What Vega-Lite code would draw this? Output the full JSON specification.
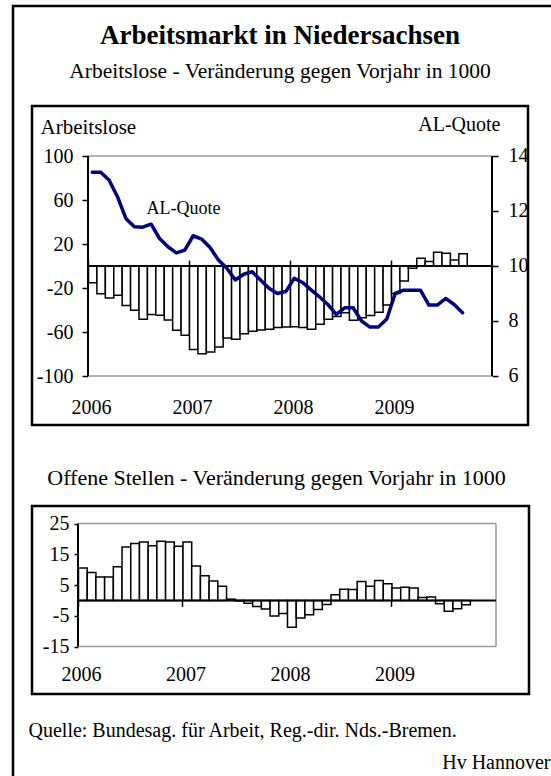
{
  "$schema": "https://vega.github.io/schema/vega-lite/v6.json",
  "width": 538,
  "height": 770,
  "autosize": {"type": "none"},
  "padding": {"left": 13, "top": 6, "right": 0, "bottom": 0},
  "background": "white",
  "config": {
    "font": "Liberation Serif",
    "view": {"stroke": "black", "strokeWidth": 2.5, "strokeDash": [538, 1308, 770]},
    "axis": {"labelColor": "black", "tickColor": "black", "titleColor": "black", "labelFont": "Liberation Serif", "titleFont": "Liberation Serif", "titleFontWeight": "normal", "grid": false, "domain": false, "labelFlush": false, "labelOverlap": false, "tickWidth": 1.5}
  },
  "title": {
    "text": "Arbeitsmarkt in Niedersachsen",
    "subtitle": "Arbeitslose - Veränderung gegen Vorjahr in 1000",
    "font": "Liberation Serif", "fontSize": 27, "fontWeight": "bold", "color": "black",
    "subtitleFont": "Liberation Serif", "subtitleFontSize": 21.5, "subtitleColor": "black",
    "subtitlePadding": 11, "offset": -77.5, "anchor": "middle", "frame": "group", "dx": -2
  },
  "datasets": {
    "one": [{}],
    "top": [
      {"month": "2006-01", "t": 0.5, "al": -15.2, "q": 13.41},
      {"month": "2006-02", "t": 1.5, "al": -25.2, "q": 13.41},
      {"month": "2006-03", "t": 2.5, "al": -29.1, "q": 13.13},
      {"month": "2006-04", "t": 3.5, "al": -26.7, "q": 12.52},
      {"month": "2006-05", "t": 4.5, "al": -35.8, "q": 11.73},
      {"month": "2006-06", "t": 5.5, "al": -40.3, "q": 11.43},
      {"month": "2006-07", "t": 6.5, "al": -48.5, "q": 11.41},
      {"month": "2006-08", "t": 7.5, "al": -44.2, "q": 11.52},
      {"month": "2006-09", "t": 8.5, "al": -44.8, "q": 11.0},
      {"month": "2006-10", "t": 9.5, "al": -49.1, "q": 10.7},
      {"month": "2006-11", "t": 10.5, "al": -58.5, "q": 10.48},
      {"month": "2006-12", "t": 11.5, "al": -63.0, "q": 10.58},
      {"month": "2007-01", "t": 12.5, "al": -76.0, "q": 11.1},
      {"month": "2007-02", "t": 13.5, "al": -79.7, "q": 10.98},
      {"month": "2007-03", "t": 14.5, "al": -78.2, "q": 10.67},
      {"month": "2007-04", "t": 15.5, "al": -73.6, "q": 10.22},
      {"month": "2007-05", "t": 16.5, "al": -65.5, "q": 9.92},
      {"month": "2007-06", "t": 17.5, "al": -66.7, "q": 9.49},
      {"month": "2007-07", "t": 18.5, "al": -61.5, "q": 9.7},
      {"month": "2007-08", "t": 19.5, "al": -59.4, "q": 9.79},
      {"month": "2007-09", "t": 20.5, "al": -58.2, "q": 9.49},
      {"month": "2007-10", "t": 21.5, "al": -57.6, "q": 9.19},
      {"month": "2007-11", "t": 22.5, "al": -56.0, "q": 9.0},
      {"month": "2007-12", "t": 23.5, "al": -55.5, "q": 9.07},
      {"month": "2008-01", "t": 24.5, "al": -55.2, "q": 9.55},
      {"month": "2008-02", "t": 25.5, "al": -55.8, "q": 9.4},
      {"month": "2008-03", "t": 26.5, "al": -57.6, "q": 9.13},
      {"month": "2008-04", "t": 27.5, "al": -53.0, "q": 8.88},
      {"month": "2008-05", "t": 28.5, "al": -48.5, "q": 8.6},
      {"month": "2008-06", "t": 29.5, "al": -46.0, "q": 8.24},
      {"month": "2008-07", "t": 30.5, "al": -42.4, "q": 8.48},
      {"month": "2008-08", "t": 31.5, "al": -49.4, "q": 8.48},
      {"month": "2008-09", "t": 32.5, "al": -47.0, "q": 8.0},
      {"month": "2008-10", "t": 33.5, "al": -45.0, "q": 7.78},
      {"month": "2008-11", "t": 34.5, "al": -42.0, "q": 7.78},
      {"month": "2008-12", "t": 35.5, "al": -35.5, "q": 8.07},
      {"month": "2009-01", "t": 36.5, "al": -25.0, "q": 9.0},
      {"month": "2009-02", "t": 37.5, "al": -13.6, "q": 9.12},
      {"month": "2009-03", "t": 38.5, "al": -2.0, "q": 9.12},
      {"month": "2009-04", "t": 39.5, "al": 7.0, "q": 9.12},
      {"month": "2009-05", "t": 40.5, "al": 4.0, "q": 8.58},
      {"month": "2009-06", "t": 41.5, "al": 12.4, "q": 8.58},
      {"month": "2009-07", "t": 42.5, "al": 11.5, "q": 8.82},
      {"month": "2009-08", "t": 43.5, "al": 5.5, "q": 8.6},
      {"month": "2009-09", "t": 44.5, "al": 11.2, "q": 8.3}
    ],
    "os": [
      {"month": "2006-01", "t": 0.5, "os": 10.5},
      {"month": "2006-02", "t": 1.5, "os": 9.1},
      {"month": "2006-03", "t": 2.5, "os": 7.6},
      {"month": "2006-04", "t": 3.5, "os": 7.6},
      {"month": "2006-05", "t": 4.5, "os": 10.9},
      {"month": "2006-06", "t": 5.5, "os": 17.4},
      {"month": "2006-07", "t": 6.5, "os": 18.5},
      {"month": "2006-08", "t": 7.5, "os": 19.0},
      {"month": "2006-09", "t": 8.5, "os": 17.8},
      {"month": "2006-10", "t": 9.5, "os": 19.2},
      {"month": "2006-11", "t": 10.5, "os": 19.0},
      {"month": "2006-12", "t": 11.5, "os": 17.6},
      {"month": "2007-01", "t": 12.5, "os": 19.0},
      {"month": "2007-02", "t": 13.5, "os": 11.2},
      {"month": "2007-03", "t": 14.5, "os": 8.0},
      {"month": "2007-04", "t": 15.5, "os": 6.3},
      {"month": "2007-05", "t": 16.5, "os": 4.6},
      {"month": "2007-06", "t": 17.5, "os": 0.4},
      {"month": "2007-07", "t": 18.5, "os": -0.2},
      {"month": "2007-08", "t": 19.5, "os": -0.9},
      {"month": "2007-09", "t": 20.5, "os": -2.0},
      {"month": "2007-10", "t": 21.5, "os": -2.8},
      {"month": "2007-11", "t": 22.5, "os": -5.1},
      {"month": "2007-12", "t": 23.5, "os": -4.3},
      {"month": "2008-01", "t": 24.5, "os": -8.7},
      {"month": "2008-02", "t": 25.5, "os": -5.7},
      {"month": "2008-03", "t": 26.5, "os": -4.7},
      {"month": "2008-04", "t": 27.5, "os": -3.0},
      {"month": "2008-05", "t": 28.5, "os": -1.3},
      {"month": "2008-06", "t": 29.5, "os": 1.8},
      {"month": "2008-07", "t": 30.5, "os": 3.6},
      {"month": "2008-08", "t": 31.5, "os": 3.5},
      {"month": "2008-09", "t": 32.5, "os": 6.1},
      {"month": "2008-10", "t": 33.5, "os": 4.6},
      {"month": "2008-11", "t": 34.5, "os": 6.5},
      {"month": "2008-12", "t": 35.5, "os": 5.4},
      {"month": "2009-01", "t": 36.5, "os": 4.0},
      {"month": "2009-02", "t": 37.5, "os": 4.3},
      {"month": "2009-03", "t": 38.5, "os": 4.0},
      {"month": "2009-04", "t": 39.5, "os": 0.9},
      {"month": "2009-05", "t": 40.5, "os": 1.1},
      {"month": "2009-06", "t": 41.5, "os": -1.1},
      {"month": "2009-07", "t": 42.5, "os": -3.5},
      {"month": "2009-08", "t": 43.5, "os": -2.7},
      {"month": "2009-09", "t": 44.5, "os": -1.4}
    ]
  },
  "layer": [
    {
      "layer": [
        {
          "layer": [
            {
              "data": {"name": "one"},
              "mark": {"type": "rect", "fill": "transparent", "stroke": "black", "strokeWidth": 2.5},
              "encoding": {
                "x": {"datum": -6.653, "type": "quantitative", "scale": {"domain": [-8.911, 55.01], "nice": false, "zero": false}},
                "x2": {"datum": 52.277},
                "y": {"datum": 145.45, "type": "quantitative", "scale": {"domain": [-463.636, 236.364], "nice": false, "zero": false}},
                "y2": {"datum": -144.55}
              }
            },
            {
              "data": {"name": "one"},
              "mark": {"type": "rule", "color": "#9a9a9a", "strokeWidth": 1.5},
              "encoding": {
                "x": {"datum": 0, "type": "quantitative", "scale": {"domain": [-8.911, 55.01], "nice": false, "zero": false}},
                "x2": {"datum": 48},
                "y": {"datum": 100, "type": "quantitative", "scale": {"domain": [-463.636, 236.364], "nice": false, "zero": false}}
              }
            },
            {
              "data": {"name": "one"},
              "mark": {"type": "rule", "color": "#9a9a9a", "strokeWidth": 1.5},
              "encoding": {
                "x": {"datum": 0, "type": "quantitative", "scale": {"domain": [-8.911, 55.01], "nice": false, "zero": false}},
                "x2": {"datum": 48},
                "y": {"datum": -100, "type": "quantitative", "scale": {"domain": [-463.636, 236.364], "nice": false, "zero": false}}
              }
            },
            {
              "data": {"name": "top"},
              "mark": {"type": "bar", "fill": "white", "stroke": "black", "strokeWidth": 1.5, "binSpacing": 0},
              "encoding": {
                "x": {
                  "field": "t", "type": "quantitative", "bin": {"step": 1, "extent": [0, 45]},
                  "scale": {"domain": [-8.911, 55.01], "nice": false, "zero": false},
                  "axis": {"orient": "bottom", "offset": -510, "values": [0, 12, 24, 36], "labelExpr": "'' + (2006 + datum.value / 12)", "tickSize": -6, "labelPadding": 153, "labelBaseline": "alphabetic", "labelOffset": 3, "labelFontSize": 20, "title": "Hv Hannover", "titleX": 537, "titleY": 502, "titleAlign": "right", "titleBaseline": "alphabetic", "titleFontSize": 20}
                },
                "y": {
                  "field": "al", "type": "quantitative",
                  "scale": {"domain": [-463.636, 236.364], "nice": false, "zero": false},
                  "axis": {"orient": "left", "offset": -75, "values": [-100, -60, -20, 20, 60, 100], "labelExpr": "'' + datum.value", "tickSize": 6, "labelPadding": 9, "labelFontSize": 20, "title": "Arbeitslose", "titleAngle": 0, "titleX": -48, "titleY": 127, "titleAlign": "left", "titleBaseline": "alphabetic", "titleFontSize": 21}
                }
              }
            },
            {
              "data": {"name": "one"},
              "mark": {"type": "rule", "color": "black", "strokeWidth": 2},
              "encoding": {
                "x": {"datum": 0, "type": "quantitative", "scale": {"domain": [-8.911, 55.01], "nice": false, "zero": false}},
                "x2": {"datum": 48},
                "y": {"datum": 0, "type": "quantitative", "scale": {"domain": [-463.636, 236.364], "nice": false, "zero": false}}
              }
            },
            {
              "data": {"name": "one"},
              "mark": {"type": "rule", "color": "black", "strokeWidth": 2},
              "encoding": {
                "x": {"datum": 0, "type": "quantitative", "scale": {"domain": [-8.911, 55.01], "nice": false, "zero": false}},
                "y": {"datum": -100, "type": "quantitative", "scale": {"domain": [-463.636, 236.364], "nice": false, "zero": false}},
                "y2": {"datum": 100}
              }
            },
            {
              "data": {"name": "one"},
              "mark": {"type": "rule", "color": "black", "strokeWidth": 2},
              "encoding": {
                "x": {"datum": 48, "type": "quantitative", "scale": {"domain": [-8.911, 55.01], "nice": false, "zero": false}},
                "y": {"datum": -100, "type": "quantitative", "scale": {"domain": [-463.636, 236.364], "nice": false, "zero": false}},
                "y2": {"datum": 100}
              }
            }
          ]
        },
        {
          "layer": [
            {
              "data": {"name": "top"},
              "mark": {"type": "line", "color": "#000080", "strokeWidth": 3.5, "strokeJoin": "round", "strokeCap": "round"},
              "encoding": {
                "x": {"field": "t", "type": "quantitative", "scale": {"domain": [-8.911, 55.01], "nice": false, "zero": false}},
                "y": {
                  "field": "q", "type": "quantitative",
                  "scale": {"domain": [-8.5455, 19.4545], "nice": false, "zero": false},
                  "axis": {"orient": "right", "offset": -59, "values": [6, 8, 10, 12, 14], "tickSize": 6, "labelPadding": 10, "labelFontSize": 20, "title": "AL-Quote", "titleAngle": 0, "titleX": 8, "titleY": 124, "titleAlign": "right", "titleBaseline": "alphabetic", "titleFontSize": 20}
                }
              }
            },
            {
              "data": {"name": "one"},
              "mark": {"type": "text", "text": "AL-Quote", "fontSize": 18, "align": "center", "baseline": "alphabetic", "color": "black", "font": "Liberation Serif"},
              "encoding": {
                "x": {"datum": 11.35, "type": "quantitative", "scale": {"domain": [-8.911, 55.01], "nice": false, "zero": false}},
                "y": {"datum": 11.89, "type": "quantitative", "scale": {"domain": [-8.5455, 19.4545], "nice": false, "zero": false}}
              }
            }
          ]
        }
      ],
      "resolve": {"scale": {"y": "independent"}}
    },
    {
      "layer": [
        {
          "data": {"name": "one"},
          "mark": {"type": "rect", "fill": "transparent", "stroke": "black", "strokeWidth": 2.5},
          "encoding": {
            "x": {"datum": -5.282, "type": "quantitative", "scale": {"domain": [-7.464, 54.316], "nice": false, "zero": false}},
            "x2": {"datum": 51.789},
            "y": {"datum": 30.69, "type": "quantitative", "scale": {"domain": [-57.11, 193.29], "nice": false, "zero": false}},
            "y2": {"datum": -30.447}
          }
        },
        {
          "data": {"name": "one"},
          "mark": {"type": "rule", "color": "#9a9a9a", "strokeWidth": 1.5},
          "encoding": {
            "x": {"datum": 0, "type": "quantitative", "scale": {"domain": [-7.464, 54.316], "nice": false, "zero": false}},
            "x2": {"datum": 48},
            "y": {"datum": 25, "type": "quantitative", "scale": {"domain": [-57.11, 193.29], "nice": false, "zero": false}}
          }
        },
        {
          "data": {"name": "one"},
          "mark": {"type": "rule", "color": "#9a9a9a", "strokeWidth": 1.5},
          "encoding": {
            "x": {"datum": 0, "type": "quantitative", "scale": {"domain": [-7.464, 54.316], "nice": false, "zero": false}},
            "x2": {"datum": 48},
            "y": {"datum": -15, "type": "quantitative", "scale": {"domain": [-57.11, 193.29], "nice": false, "zero": false}}
          }
        },
        {
          "data": {"name": "one"},
          "mark": {"type": "rule", "color": "#9a9a9a", "strokeWidth": 1.5},
          "encoding": {
            "x": {"datum": 48, "type": "quantitative", "scale": {"domain": [-7.464, 54.316], "nice": false, "zero": false}},
            "y": {"datum": -15, "type": "quantitative", "scale": {"domain": [-57.11, 193.29], "nice": false, "zero": false}},
            "y2": {"datum": 25}
          }
        },
        {
          "data": {"name": "os"},
          "mark": {"type": "bar", "fill": "white", "stroke": "black", "strokeWidth": 1.5, "binSpacing": 0},
          "encoding": {
            "x": {
              "field": "t", "type": "quantitative", "bin": {"step": 1, "extent": [0, 45]},
              "scale": {"domain": [-7.464, 54.316], "nice": false, "zero": false},
              "axis": {"orient": "bottom", "offset": -175.6, "values": [0, 12, 24, 36], "labelExpr": "'' + (2006 + datum.value / 12)", "tickSize": 6, "labelPadding": 73.6, "labelBaseline": "alphabetic", "labelOffset": 3, "labelFontSize": 20, "title": "Quelle: Bundesag. für Arbeit, Reg.-dir. Nds.-Bremen.", "titleX": 15, "titleY": 136, "titleAlign": "left", "titleBaseline": "alphabetic", "titleFontSize": 20}
            },
            "y": {
              "field": "os", "type": "quantitative",
              "scale": {"domain": [-57.11, 193.29], "nice": false, "zero": false},
              "axis": {"orient": "left", "offset": -65, "values": [-15, -5, 5, 15, 25], "labelExpr": "'' + datum.value", "tickSize": 4, "labelPadding": 5, "labelFontSize": 20, "title": "Offene Stellen - Veränderung gegen Vorjahr in 1000", "titleAngle": 0, "titleX": 198, "titleY": 478, "titleAlign": "center", "titleBaseline": "alphabetic", "titleFontSize": 22}
            }
          }
        },
        {
          "data": {"name": "one"},
          "mark": {"type": "rule", "color": "black", "strokeWidth": 2},
          "encoding": {
            "x": {"datum": 0, "type": "quantitative", "scale": {"domain": [-7.464, 54.316], "nice": false, "zero": false}},
            "x2": {"datum": 48},
            "y": {"datum": 0, "type": "quantitative", "scale": {"domain": [-57.11, 193.29], "nice": false, "zero": false}}
          }
        },
        {
          "data": {"name": "one"},
          "mark": {"type": "rule", "color": "black", "strokeWidth": 2},
          "encoding": {
            "x": {"datum": 0, "type": "quantitative", "scale": {"domain": [-7.464, 54.316], "nice": false, "zero": false}},
            "y": {"datum": -15, "type": "quantitative", "scale": {"domain": [-57.11, 193.29], "nice": false, "zero": false}},
            "y2": {"datum": 25}
          }
        }
      ]
    }
  ],
  "resolve": {"scale": {"x": "independent", "y": "independent"}}
}
